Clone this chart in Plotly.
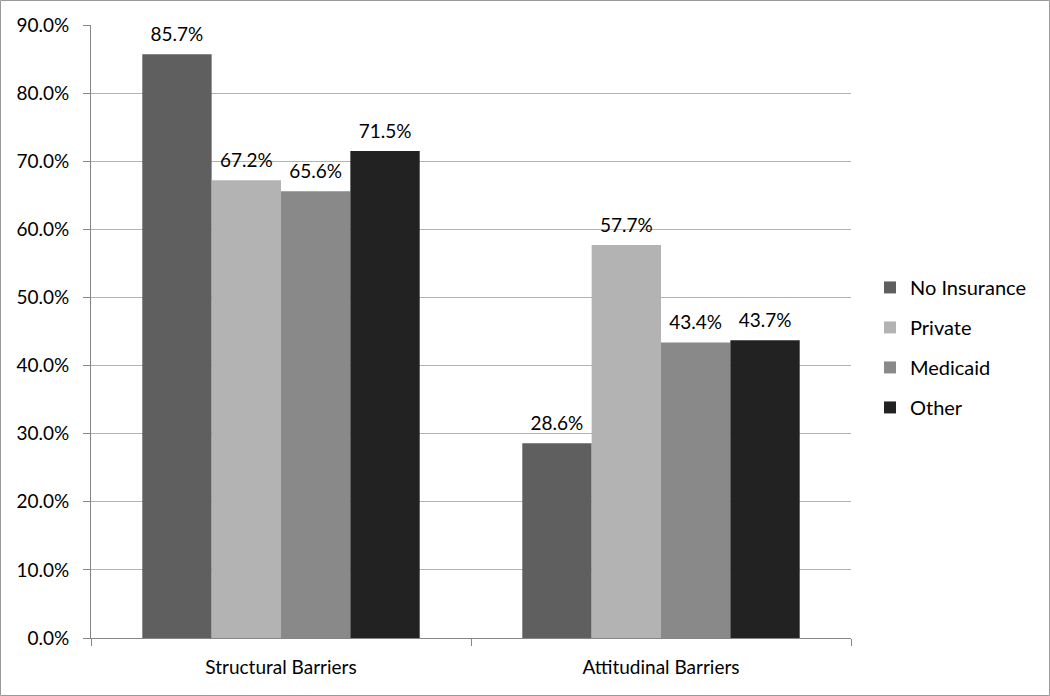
import plotly.graph_objects as go

categories = ["Structural Barriers", "Attitudinal Barriers"]
series_names = ["No Insurance", "Private", "Medicaid", "Other"]
no_insurance = [0.857, 0.286]
private = [0.672, 0.577]
medicaid = [0.656, 0.434]
other = [0.715, 0.437]
series_values = [no_insurance, private, medicaid, other]
colors = ["#5f5f5f", "#b3b3b3", "#898989", "#222222"]
y_ticks = [0.0, 0.1, 0.2, 0.3, 0.4, 0.5, 0.6, 0.7, 0.8, 0.9]

FONT = "Lato"
FS = 19
fig = go.Figure()
for i, (name, vals, col) in enumerate(zip(series_names, series_values, colors)):
    fig.add_trace(go.Bar(
        x=categories, y=vals, name=name,
        marker=dict(color=col, line=dict(width=0)),
        offsetgroup=str(i), legendgroup=name,
    ))
for i, (name, vals) in enumerate(zip(series_names, series_values)):
    fig.add_trace(go.Scatter(
        x=categories, y=vals, mode="markers+text",
        marker=dict(size=12, opacity=0),
        text=[f"{v*100:.1f}%" for v in vals],
        textposition="top center", cliponaxis=False,
        textfont=dict(family=FONT, size=FS, color="#000000"),
        offsetgroup=str(i), showlegend=False, hoverinfo="skip",
    ))

L, R, T, B = 91, 199, 25, 58
W, H = 1050, 696
pw, ph = W - L - R, H - T - B

fig.update_layout(
    width=W, height=H,
    margin=dict(l=L, r=R, t=T, b=B),
    paper_bgcolor="white", plot_bgcolor="white",
    barmode="group", scattermode="group", bargap=0.27, bargroupgap=0,
    font=dict(family=FONT, size=FS, color="#000000"),
    showlegend=True,
    legend=dict(x=1.025, y=0.474, xanchor="left", yanchor="middle",
                font=dict(family=FONT, size=20), tracegroupgap=11,
                itemwidth=30, bgcolor="rgba(0,0,0,0)"),
    xaxis=dict(showline=True, linecolor="#868686", linewidth=1,
               ticks="outside", tickson="boundaries", ticklen=7, tickcolor="#868686",
               tickfont=dict(family=FONT, size=FS), showgrid=False,
               ticklabelstandoff=12),
    yaxis=dict(range=[0, 0.9], tickvals=y_ticks, tickformat=".1%",
               showline=True, linecolor="#868686", linewidth=1,
               ticks="outside", ticklen=7, tickcolor="#868686",
               showgrid=True, gridcolor="#b3b3b3", gridwidth=1,
               zeroline=False, tickfont=dict(family=FONT, size=FS),
               ticklabelstandoff=10),
)

fig.add_shape(type="rect", xref="paper", yref="paper",
              x0=(0.5 - L) / pw, x1=(W - 0.5 - L) / pw,
              y0=(H - B - (H - 0.5)) / ph, y1=(H - B - 0.5) / ph,
              line=dict(color="#9a9a9a", width=1), fillcolor="rgba(0,0,0,0)", layer="below")

fig.write_html("out.html", config={"displayModeBar": False},
               post_script="document.body.style.margin='0';document.body.style.overflow='hidden';")
